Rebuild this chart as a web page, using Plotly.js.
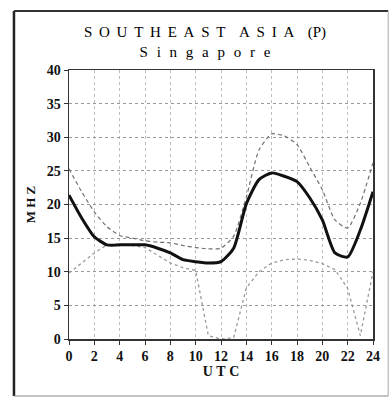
<!DOCTYPE html>
<html><head><meta charset="utf-8">
<script src="https://cdn.plot.ly/plotly-3.0.1.min.js"></script>
<style>html,body{margin:0;padding:0;background:#fff;}#chart{width:392px;height:399px;}</style>
</head><body><div id="chart"></div>
<script>
var hours = [0,1,2,3,4,5,6,7,8,9,10,11,12,13,14,15,16,17,18,19,20,21,22,23,24];
var mufMedian = [21.4,18.0,15.2,14.0,14.0,14.0,14.0,13.5,12.8,11.8,11.5,11.3,11.5,13.5,20.1,23.7,24.7,24.2,23.4,21.0,17.7,12.8,12.2,16.2,21.9];
var mufUpper = [25.3,21.9,18.9,16.7,15.4,15.0,14.6,14.4,14.3,13.9,13.6,13.4,13.5,15.3,21.1,28.1,30.5,30.2,28.9,25.6,22.2,17.7,16.5,20.2,26.2];
var mufLower = [9.8,11.3,12.8,14.0,14.0,13.9,13.6,12.5,11.3,10.6,10.2,0.5,0.0,0.2,7.6,10.0,11.3,11.8,11.9,11.7,11.2,10.3,7.5,0.5,10.0];
var xTicks = [0,2,4,6,8,10,12,14,16,18,20,22,24];
var yTicks = [0,5,10,15,20,25,30,35,40];
var titleLine1 = 'S O U T H E A S T  A S I A  (P)';
var titleLine2 = 'S i n g a p o r e';

function spaced(s, gap){ return s.replace(/ /g, gap); }
var serif = 'Liberation Serif, DejaVu Serif, serif';
var tickFont = {family:serif, size:14, color:'#111'};
var traces = [
  {x:hours, y:mufLower, mode:'lines', line:{color:'#999', width:1.3, dash:'dot'}, hoverinfo:'none'},
  {x:hours, y:mufUpper, mode:'lines', line:{color:'#707070', width:1.2, dash:'4px,3px', shape:'spline', smoothing:0.6}, hoverinfo:'none'},
  {x:hours, y:mufMedian, mode:'lines', line:{color:'#111', width:3, shape:'spline', smoothing:0.6}, hoverinfo:'none'}
];
var layout = {
  width:392, height:399,
  margin:{l:69, r:19, t:70, b:60},
  paper_bgcolor:'#fff', plot_bgcolor:'#fff',
  showlegend:false,
  title:{text:spaced(titleLine1,'\u00A0\u2009')+'<br>'+spaced(titleLine2,'\u2002\u200A'),
         font:{family:serif, size:15, color:'#000', lineposition:'none'},
         x:0.523, xanchor:'center', y:0.907, yanchor:'middle'},
  xaxis:{range:[0,24], tickvals:xTicks, ticktext:xTicks.map(function(v){return '<b>'+v+'</b>';}), ticks:'outside', ticklen:4, tickcolor:'#333',
         showline:true, linecolor:'#333', linewidth:1.5, mirror:true,
         showgrid:true, gridcolor:'#bdbdbd', gridwidth:1, griddash:'dot', zeroline:false,
         tickfont:tickFont,
         title:{text:'<b>'+spaced('U T C','\u00A0')+'</b>', font:{family:serif, size:14, color:'#111'}, standoff:2}},
  yaxis:{range:[0,40], tickvals:yTicks, ticktext:yTicks.map(function(v){return '<b>'+v+'</b>';}), ticks:'outside', ticklen:4, tickcolor:'#333',
         showline:true, linecolor:'#333', linewidth:1.5, mirror:true,
         showgrid:true, gridcolor:'#9a9a9a', gridwidth:1, griddash:'dot', zeroline:false,
         tickfont:tickFont,
         title:{text:'<b>'+spaced('M H Z','\u00A0')+'</b>', font:{family:serif, size:13, color:'#111'}, standoff:8}},
  shapes:[
    {type:'line', xref:'paper', yref:'paper', x0:-0.181, x1:-0.181, y0:-0.212, y1:1.219, line:{color:'#222', width:2.5}},
    {type:'line', xref:'paper', yref:'paper', x0:-0.181, x1:1.05, y0:1.219, y1:1.219, line:{color:'#333', width:2}},
    {type:'line', xref:'paper', yref:'paper', x0:1.05, x1:1.05, y0:-0.212, y1:1.219, line:{color:'#aaa', width:1}},
    {type:'line', xref:'paper', yref:'paper', x0:-0.181, x1:1.05, y0:-0.212, y1:-0.212, line:{color:'#888', width:1}}
  ]
};
Plotly.newPlot('chart', traces, layout, {staticPlot:true, displayModeBar:false});
</script></body></html>
